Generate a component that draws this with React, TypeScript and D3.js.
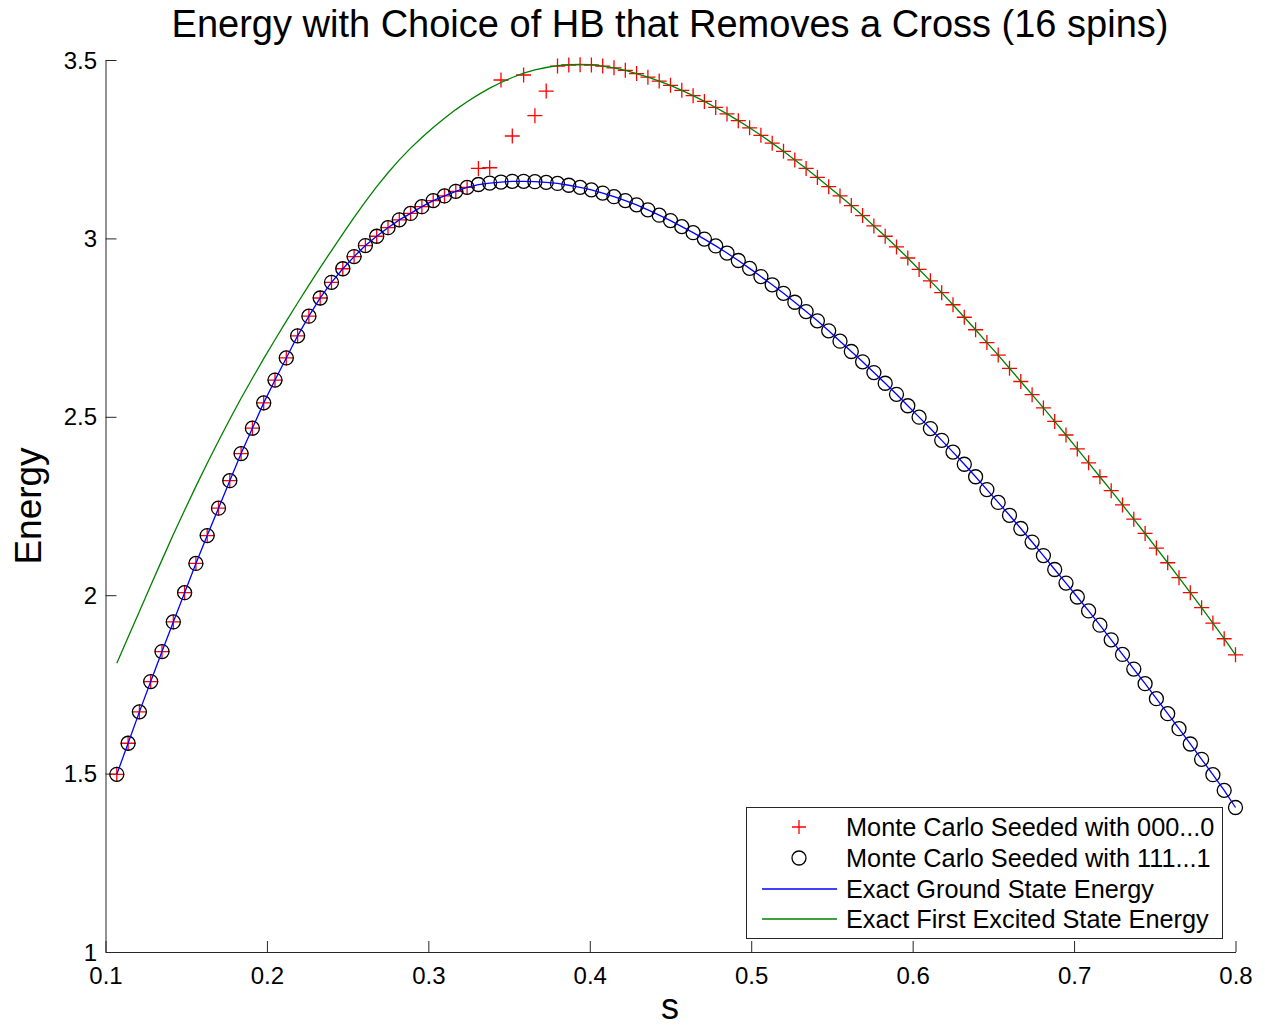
import { useEffect, useRef } from 'react'
import * as d3 from 'd3'

// s grid (0.107 : 0.007 : 0.8)
const S = [
  0.107, 0.114, 0.121, 0.128, 0.135, 0.142, 0.149, 0.156, 0.163, 0.170,
  0.177, 0.184, 0.191, 0.198, 0.205, 0.212, 0.219, 0.226, 0.233, 0.240,
  0.247, 0.254, 0.261, 0.268, 0.275, 0.282, 0.289, 0.296, 0.303, 0.310,
  0.317, 0.324, 0.331, 0.338, 0.345, 0.352, 0.359, 0.366, 0.373, 0.380,
  0.387, 0.394, 0.401, 0.408, 0.415, 0.422, 0.429, 0.436, 0.443, 0.450,
  0.457, 0.464, 0.471, 0.478, 0.485, 0.492, 0.499, 0.506, 0.513, 0.520,
  0.527, 0.534, 0.541, 0.548, 0.555, 0.562, 0.569, 0.576, 0.583, 0.590,
  0.597, 0.604, 0.611, 0.618, 0.625, 0.632, 0.639, 0.646, 0.653, 0.660,
  0.667, 0.674, 0.681, 0.688, 0.695, 0.702, 0.709, 0.716, 0.723, 0.730,
  0.737, 0.744, 0.751, 0.758, 0.765, 0.772, 0.779, 0.786, 0.793, 0.800,
]

// exact ground state energy (blue)
const GROUND = [
  1.498, 1.585, 1.673, 1.758, 1.842, 1.925, 2.007, 2.089, 2.167, 2.244,
  2.321, 2.397, 2.468, 2.539, 2.603, 2.665, 2.727, 2.782, 2.833, 2.877,
  2.915, 2.949, 2.980, 3.006, 3.030, 3.052, 3.070, 3.089, 3.106, 3.119,
  3.132, 3.143, 3.151, 3.155, 3.158, 3.160, 3.160, 3.159, 3.157, 3.154,
  3.149, 3.143, 3.136, 3.127, 3.117, 3.106, 3.094, 3.080, 3.065, 3.050,
  3.033, 3.016, 2.998, 2.979, 2.959, 2.938, 2.916, 2.893, 2.870, 2.846,
  2.821, 2.795, 2.769, 2.741, 2.712, 2.683, 2.654, 2.624, 2.594, 2.563,
  2.531, 2.499, 2.467, 2.434, 2.401, 2.367, 2.332, 2.296, 2.260, 2.224,
  2.187, 2.149, 2.111, 2.072, 2.034, 1.995, 1.956, 1.916, 1.875, 1.834,
  1.793, 1.752, 1.710, 1.668, 1.626, 1.583, 1.540, 1.497, 1.453, 1.405,
]

// exact first excited state energy (green)
const EXCITED = [
  1.809, 1.882, 1.954, 2.027, 2.099, 2.170, 2.238, 2.305, 2.370, 2.432,
  2.493, 2.552, 2.608, 2.663, 2.716, 2.768, 2.819, 2.869, 2.918, 2.966,
  3.013, 3.059, 3.103, 3.145, 3.184, 3.220, 3.253, 3.283, 3.311, 3.337,
  3.361, 3.383, 3.403, 3.421, 3.437, 3.451, 3.463, 3.472, 3.479, 3.484,
  3.487, 3.488, 3.487, 3.483, 3.478, 3.471, 3.462, 3.452, 3.441, 3.429,
  3.415, 3.400, 3.384, 3.367, 3.349, 3.330, 3.310, 3.289, 3.267, 3.244,
  3.220, 3.196, 3.171, 3.145, 3.119, 3.092, 3.064, 3.035, 3.006, 2.976,
  2.945, 2.913, 2.881, 2.848, 2.814, 2.779, 2.744, 2.708, 2.673, 2.636,
  2.599, 2.562, 2.525, 2.487, 2.449, 2.410, 2.371, 2.332, 2.293, 2.253,
  2.213, 2.173, 2.132, 2.091, 2.049, 2.007, 1.965, 1.922, 1.878, 1.833,
]

// Monte Carlo seeded with 000...0 (red +)
const MC_000 = [
  1.498, 1.585, 1.673, 1.758, 1.842, 1.925, 2.007, 2.089, 2.167, 2.244,
  2.321, 2.397, 2.468, 2.539, 2.603, 2.665, 2.727, 2.782, 2.833, 2.877,
  2.915, 2.949, 2.980, 3.006, 3.030, 3.052, 3.070, 3.089, 3.106, 3.119,
  3.132, 3.143, 3.196, 3.198, 3.444, 3.287, 3.458, 3.344, 3.413, 3.483,
  3.486, 3.487, 3.486, 3.483, 3.478, 3.471, 3.462, 3.452, 3.441, 3.429,
  3.415, 3.400, 3.384, 3.367, 3.349, 3.330, 3.310, 3.289, 3.267, 3.244,
  3.220, 3.196, 3.171, 3.145, 3.119, 3.092, 3.064, 3.035, 3.006, 2.976,
  2.945, 2.913, 2.881, 2.848, 2.814, 2.779, 2.744, 2.708, 2.673, 2.636,
  2.599, 2.562, 2.525, 2.487, 2.449, 2.410, 2.371, 2.332, 2.293, 2.253,
  2.213, 2.173, 2.132, 2.091, 2.049, 2.007, 1.965, 1.922, 1.878, 1.833,
]

// Monte Carlo seeded with 111...1 (black o)
const MC_111 = [
  1.498, 1.585, 1.673, 1.758, 1.842, 1.925, 2.007, 2.089, 2.167, 2.244,
  2.321, 2.397, 2.468, 2.539, 2.603, 2.665, 2.727, 2.782, 2.833, 2.877,
  2.915, 2.949, 2.980, 3.006, 3.030, 3.052, 3.070, 3.089, 3.106, 3.119,
  3.132, 3.143, 3.151, 3.155, 3.158, 3.160, 3.160, 3.159, 3.157, 3.154,
  3.149, 3.143, 3.136, 3.127, 3.117, 3.106, 3.094, 3.080, 3.065, 3.050,
  3.033, 3.016, 2.998, 2.979, 2.959, 2.938, 2.916, 2.893, 2.870, 2.846,
  2.821, 2.795, 2.769, 2.741, 2.712, 2.683, 2.654, 2.624, 2.594, 2.563,
  2.531, 2.499, 2.467, 2.434, 2.401, 2.367, 2.332, 2.296, 2.260, 2.224,
  2.187, 2.149, 2.111, 2.072, 2.034, 1.995, 1.956, 1.916, 1.875, 1.834,
  1.793, 1.752, 1.710, 1.668, 1.626, 1.583, 1.540, 1.497, 1.453, 1.405,
]

const X_TICKS = [0.1, 0.2, 0.3, 0.4, 0.5, 0.6, 0.7, 0.8]
const Y_TICKS = [1, 1.5, 2, 2.5, 3, 3.5]
const LEGEND_LABELS = [
  'Monte Carlo Seeded with 000...0',
  'Monte Carlo Seeded with 111...1',
  'Exact Ground State Energy',
  'Exact First Excited State Energy',
]

const FONT = "'Liberation Sans', Arial, Helvetica, sans-serif"
const AXIS_COLOR = '#262626'

export default function App(): JSX.Element {
  const ref = useRef<SVGSVGElement>(null)

  useEffect(() => {
    if (!ref.current) return
    const svg = d3.select(ref.current)
    svg.selectAll('*').remove()

    const x = d3.scaleLinear().domain([0.1, 0.8]).range([105.5, 1235.5])
    const y = d3.scaleLinear().domain([1, 3.5]).range([952, 60])

    svg.append('rect').attr('width', 1265).attr('height', 1027).attr('fill', '#fff')

    // axes (left + bottom only, ticks inside)
    const gx = svg.append('g').attr('transform', 'translate(0,952)')
      .call(d3.axisBottom(x).tickValues(X_TICKS).tickFormat(d3.format('.1f') as any)
        .tickSizeInner(-11).tickSizeOuter(0).tickPadding(15))
    const gy = svg.append('g').attr('transform', 'translate(105.5,0)')
      .call(d3.axisLeft(y).tickValues(Y_TICKS).tickFormat(d3.format('~g') as any)
        .tickSizeInner(-11).tickSizeOuter(0).tickPadding(8.5))
    for (const g of [gx, gy]) {
      g.attr('font-family', FONT).attr('font-size', 24)
      g.selectAll('path, line').attr('stroke', AXIS_COLOR).attr('stroke-width', 1)
      g.selectAll('text').attr('fill', '#000')
    }
    gy.selectAll('text').attr('dy', '0.34em')

    const plot = svg.append('g')

    // red plus markers
    plot.append('g').selectAll('path').data(MC_000).enter().append('path')
      .attr('d', (d, i) => {
        const cx = x(S[i]), cy = y(d)
        return `M${cx - 7.5},${cy}h15M${cx},${cy - 7.5}v15`
      })
      .attr('stroke', '#ff0000').attr('stroke-width', 1.3).attr('fill', 'none')

    // black circle markers
    plot.append('g').selectAll('circle').data(MC_111).enter().append('circle')
      .attr('cx', (_, i) => x(S[i])).attr('cy', d => y(d)).attr('r', 7)
      .attr('fill', 'none').attr('stroke', '#000').attr('stroke-width', 1.3)

    const line = d3.line<number>().x((_, i) => x(S[i])).y(d => y(d))
    plot.append('path').datum(GROUND).attr('d', line)
      .attr('fill', 'none').attr('stroke', '#0000ff').attr('stroke-width', 1.3)
    plot.append('path').datum(EXCITED).attr('d', line)
      .attr('fill', 'none').attr('stroke', '#008000').attr('stroke-width', 1.3)

    // labels
    svg.append('text').attr('x', 670).attr('y', 37).attr('text-anchor', 'middle')
      .attr('font-family', FONT).attr('font-size', 38).text('Energy with Choice of HB that Removes a Cross (16 spins)')
    svg.append('text').attr('transform', 'translate(41,506) rotate(-90)').attr('text-anchor', 'middle')
      .attr('font-family', FONT).attr('font-size', 37).text('Energy')
    svg.append('text').attr('x', 670).attr('y', 1019).attr('text-anchor', 'middle')
      .attr('font-family', FONT).attr('font-size', 36).text('s')

    // legend
    const lg = svg.append('g')
    lg.append('rect').attr('x', 746.5).attr('y', 807.5).attr('width', 476).attr('height', 131)
      .attr('fill', '#fff').attr('stroke', AXIS_COLOR).attr('stroke-width', 1)
    const rowY = [827, 858, 889, 919]
    LEGEND_LABELS.forEach((label, i) => {
      const ly = rowY[i]
      if (i === 0) {
        lg.append('path').attr('d', `M${799 - 7},${ly}h14M799,${ly - 7}v14`)
          .attr('stroke', '#ff0000').attr('stroke-width', 1.3)
      } else if (i === 1) {
        lg.append('circle').attr('cx', 799).attr('cy', ly).attr('r', 7)
          .attr('fill', 'none').attr('stroke', '#000').attr('stroke-width', 1.3)
      } else {
        lg.append('line').attr('x1', 762).attr('x2', 837).attr('y1', ly).attr('y2', ly)
          .attr('stroke', i === 2 ? '#0000ff' : '#008000').attr('stroke-width', 1.3)
      }
      lg.append('text').attr('x', 846).attr('y', ly).attr('dy', '0.35em')
        .attr('font-family', FONT).attr('font-size', 25.3).text(label)
    })
  }, [])

  return (
    <svg ref={ref} width={1265} height={1027}
      style={{ position: 'absolute', left: 0, top: 0, display: 'block' }} />
  )
}
